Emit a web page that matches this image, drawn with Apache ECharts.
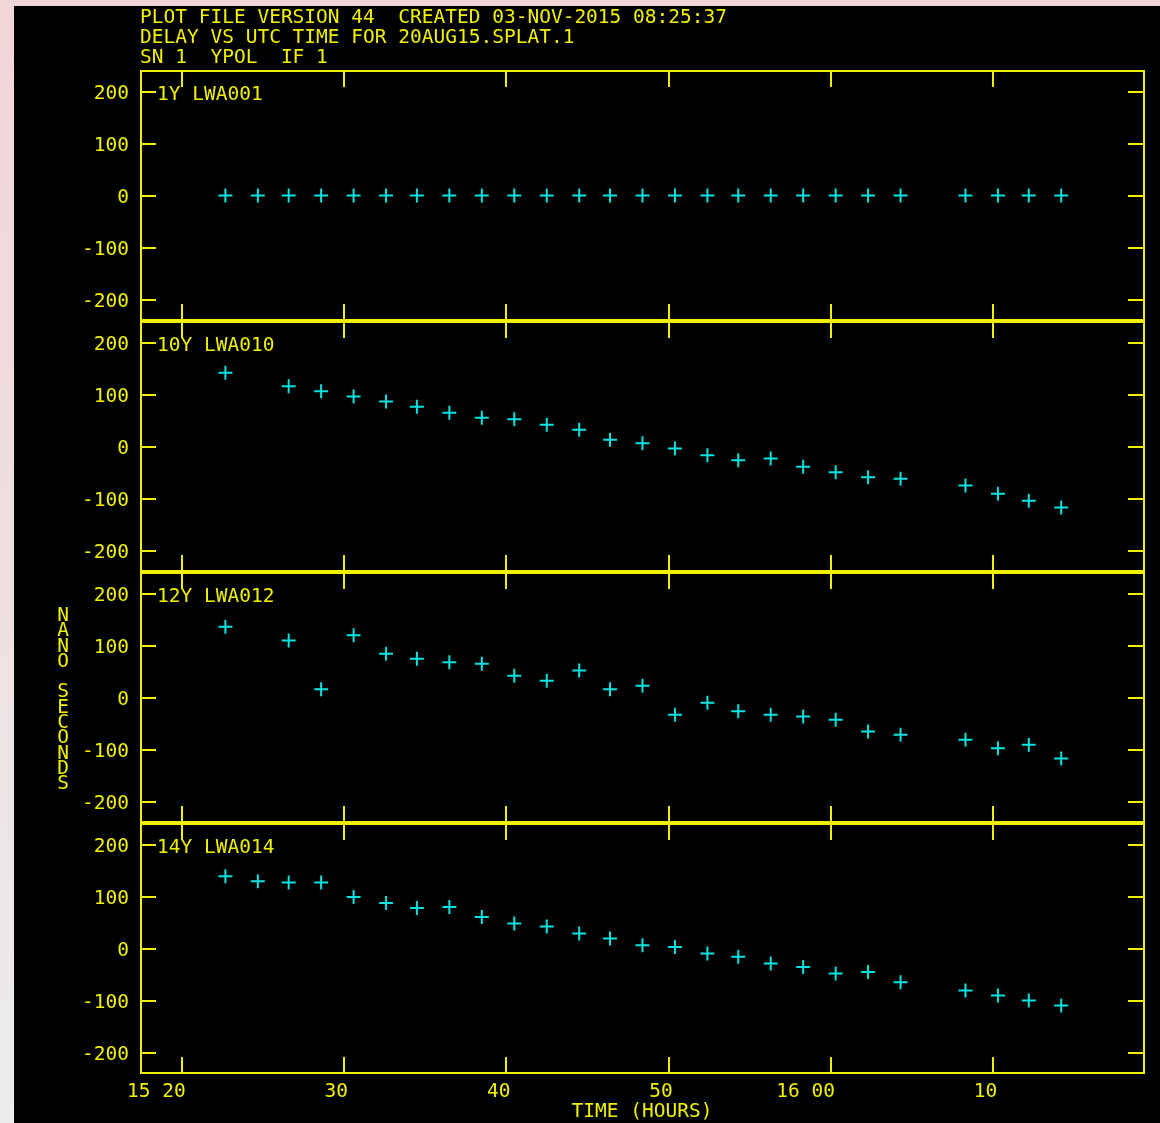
<!DOCTYPE html>
<html>
<head>
<meta charset="utf-8">
<script src="https://cdn.jsdelivr.net/npm/echarts@6/dist/echarts.min.js"></script>
<style>
html,body{margin:0;padding:0;width:1160px;height:1123px;overflow:hidden;
 background:linear-gradient(180deg,#f1d5d7 0%,#eedfe0 50%,#ececec 100%);}
#bg{position:absolute;left:14px;top:6px;width:1146px;height:1117px;background:#000;}
#chart{position:absolute;left:0;top:0;width:1160px;height:1123px;}
</style>
</head>
<body>
<div id="bg"></div>
<div id="chart"></div>
<script>
// ---- data (minutes after 15:00 UTC, delays in nanoseconds) ----
const times = [22.7, 24.7, 26.6, 28.6, 30.6, 32.6, 34.5, 36.5, 38.5, 40.5, 42.5, 44.5, 46.4,
               48.4, 50.4, 52.4, 54.3, 56.3, 58.3, 60.3, 62.3, 64.3, 68.3, 70.3, 72.2, 74.2];
const panelNames = ['1Y LWA001', '10Y LWA010', '12Y LWA012', '14Y LWA014'];
const delay1 = [0, 0, 0, 0, 0, 0, 0, 0, 0, 0, 0, 0, 0, 0, 0, 0, 0, 0, 0, 0, 0, 0, 0, 0, 0, 0];
const delay10 = [141.5, null, 115.7, 106, 96, 86.4, 76.2, 64.7, 55, 52.4, 41.6, 32, 12.8,
                 6.4, -3.8, -16.6, -26.2, -23, -39, -49.3, -58.9, -62, -74.9, -90.8, -104.2, -117];
const delay12 = [135.7, null, 109.4, 16, 119.6, 83.9, 74.3, 67.8, 64.6, 41.6, 32, 51.8, 16,
                 22.4, -33.3, -10.2, -26.2, -33.3, -36.5, -42.9, -65.3, -71.7, -81.3, -97.3, -90.9, -117.3];
const delay14 = [138.8, 129.2, 126.7, 126.7, 99, 87.5, 77.9, 79.8, 60.7, 48, 42.2, 28.8, 19.2,
                 6.3, 3.1, -9.6, -16, -28.8, -35.3, -48, -44.9, -64.7, -80.6, -90.2, -99.8, -109.4];
const xTicks = [20, 30, 40, 50, 60, 70];
const xTickLabels = ['15 20', '30', '40', '50', '16 00', '10'];
const yTicks = [-200, -100, 0, 100, 200];
const titleLines = ['PLOT FILE VERSION 44  CREATED 03-NOV-2015 08:25:37',
                    'DELAY VS UTC TIME FOR 20AUG15.SPLAT.1',
                    'SN 1  YPOL  IF 1'];
const xName = 'TIME (HOURS)';
const yName = 'NANO SECONDS';

const panels = [delay1, delay10, delay12, delay14];
const YEL = '#f0f000';
const CYAN = '#00e4e4';
const FONT = 'DejaVu Sans Mono';
const FS = 19.5;

const XMIN = 17.5, XMAX = 79.3, YLIM = 239;
const gridTops = [71, 322, 573, 824];
const gridH = 249;

const grids = [], xAxes = [], yAxes = [], series = [];
panels.forEach((vals, i) => {
  grids.push({left: 141, width: 1003, top: gridTops[i], height: gridH,
              show: true, borderColor: YEL, borderWidth: 2, backgroundColor: 'transparent'});
  const isLast = i === panels.length - 1;
  // bottom x axis
  xAxes.push({
    gridIndex: i, type: 'value', position: 'bottom', min: XMIN, max: XMAX,
    axisLine: {show: false, onZero: false}, splitLine: {show: false},
    axisTick: {show: true, inside: true, length: 16, customValues: xTicks,
               lineStyle: {color: YEL, width: 2}},
    axisLabel: {show: isLast, customValues: xTicks.map(v => v + 0.26), align: 'right',
                verticalAlign: 'middle', margin: 19, color: YEL, fontFamily: FONT, fontSize: FS,
                formatter: v => xTickLabels[xTicks.indexOf(Math.round(v))] || ''}
  });
  // top x axis (ticks only)
  xAxes.push({
    gridIndex: i, type: 'value', position: 'top', min: XMIN, max: XMAX,
    axisLine: {show: false, onZero: false}, splitLine: {show: false},
    axisTick: {show: true, inside: true, length: 16, customValues: xTicks,
               lineStyle: {color: YEL, width: 2}},
    axisLabel: {show: false}
  });
  // left y axis
  yAxes.push({
    gridIndex: i, type: 'value', position: 'left', min: -YLIM, max: YLIM,
    axisLine: {show: false, onZero: false}, splitLine: {show: false},
    axisTick: {show: true, inside: true, length: 15, customValues: yTicks,
               lineStyle: {color: YEL, width: 2}},
    axisLabel: {show: true, customValues: yTicks, margin: 12, color: YEL,
                fontFamily: FONT, fontSize: FS,
                formatter: v => '{a|' + v + '}',
                rich: {a: {padding: [5, 0, 0, 0], color: YEL, fontFamily: FONT, fontSize: FS}}}
  });
  // right y axis (ticks only)
  yAxes.push({
    gridIndex: i, type: 'value', position: 'right', min: -YLIM, max: YLIM,
    axisLine: {show: false, onZero: false}, splitLine: {show: false},
    axisTick: {show: true, inside: true, length: 16, customValues: yTicks,
               lineStyle: {color: YEL, width: 2}},
    axisLabel: {show: false}
  });
  const data = [];
  times.forEach((t, k) => { if (vals[k] !== null) data.push([t, vals[k]]); });
  series.push({
    type: 'scatter', xAxisIndex: 2 * i, yAxisIndex: 2 * i, data: data,
    symbol: 'path://M0,6H14V8H0Z M6,0H8V14H6Z', symbolSize: 14,
    itemStyle: {color: CYAN, opacity: 1}, silent: true, animation: false
  });
});

const graphics = [];
const fontStr = FS + 'px "' + FONT + '"';
titleLines.forEach((s, k) => {
  graphics.push({type: 'text', x: 140, y: 18 + 20 * k,
    style: {text: s, fill: YEL, font: fontStr, verticalAlign: 'middle'}});
});
const labelY = [95, 346, 597, 848];
panelNames.forEach((s, i) => {
  graphics.push({type: 'text', x: 157, y: labelY[i],
    style: {text: s, fill: YEL, font: fontStr, verticalAlign: 'middle'}});
});
graphics.push({type: 'text', x: 642, y: 1112,
  style: {text: xName, fill: YEL, font: fontStr, align: 'center', verticalAlign: 'middle'}});
graphics.push({type: 'text', x: 63, y: 700,
  style: {text: yName.split('').join('\n'), fill: YEL, font: fontStr,
          align: 'center', verticalAlign: 'middle', lineHeight: 15.3}});

const chart = echarts.init(document.getElementById('chart'), null, {renderer: 'canvas'});
chart.setOption({
  backgroundColor: 'transparent',
  animation: false,
  grid: grids, xAxis: xAxes, yAxis: yAxes, series: series,
  graphic: graphics
});
</script>
</body>
</html>
